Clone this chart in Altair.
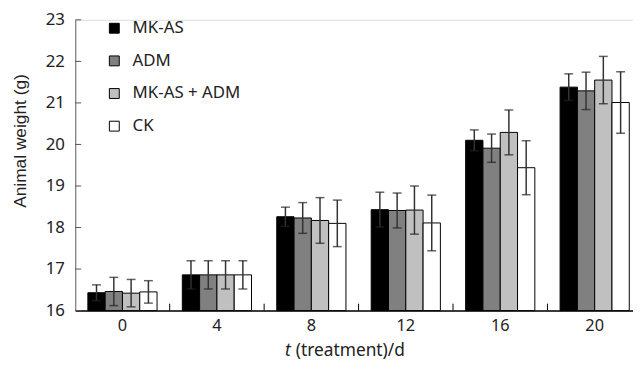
import altair as alt
import pandas as pd

groups = ["0", "4", "8", "12", "16", "20"]
series = ["MK-AS", "ADM", "MK-AS + ADM", "CK"]
colors = ["#000000", "#808080", "#c0c0c0", "#ffffff"]
y_ticks = [16, 17, 18, 19, 20, 21, 22, 23]

mk_as = [16.43, 16.86, 18.26, 18.43, 20.10, 21.38]
mk_as_err = [0.19, 0.34, 0.23, 0.42, 0.25, 0.32]
adm = [16.46, 16.86, 18.23, 18.41, 19.91, 21.29]
adm_err = [0.34, 0.34, 0.37, 0.42, 0.34, 0.45]
combo = [16.42, 16.86, 18.17, 18.42, 20.29, 21.55]
combo_err = [0.33, 0.34, 0.55, 0.58, 0.54, 0.57]
ck = [16.45, 16.86, 18.10, 18.11, 19.44, 21.01]
ck_err = [0.27, 0.34, 0.56, 0.67, 0.65, 0.74]

rows = []
for name, vals, errs in zip(series, [mk_as, adm, combo, ck], [mk_as_err, adm_err, combo_err, ck_err]):
    for g, v, e in zip(groups, vals, errs):
        rows.append({"group": g, "series": name, "value": v, "lo": v - e, "hi": v + e})
df = pd.DataFrame(rows)
tick_df = pd.DataFrame({"group": groups[1:]})
ytick_df = pd.DataFrame({"v": y_ticks})

W, H = 564, 294
LFONT = "Noto Sans"
TFONT = "Liberation Sans"
TXT = "#222222"

xenc = alt.X("group:N", scale=alt.Scale(domain=groups, paddingInner=0, paddingOuter=0, range=[0, 573]),
             axis=alt.Axis(title=None, labelAngle=0, ticks=False, tickSize=0, domainColor="#000000",
                           domainWidth=1.5, labelFontSize=16.5, labelFont=LFONT, labelColor=TXT,
                           labelPadding=7))
xoff = alt.XOffset("series:N", scale=alt.Scale(domain=series, paddingInner=0, paddingOuter=0.73))
yscale = alt.Scale(domain=[16, 23], zero=False, nice=False)

bars = alt.Chart(df).mark_bar(stroke="#000000", strokeWidth=1).encode(
    x=xenc,
    xOffset=xoff,
    y=alt.Y("value:Q", scale=yscale,
            axis=alt.Axis(title="Animal weight (g)", values=y_ticks, grid=False,
                          ticks=False, tickSize=0, domainColor="#666666", domainWidth=1,
                          labelFontSize=17, labelFont=LFONT, labelColor=TXT, labelPadding=11,
                          titleFont=TFONT, titleFontSize=17.5, titleFontWeight="normal", titleColor=TXT,
                          titleAngle=270, titleBaseline="alphabetic", titleAlign="center",
                          titleX=-50, titleY=122)),
    y2=alt.datum(16),
    color=alt.Color("series:N", scale=alt.Scale(domain=series, range=colors),
                    legend=alt.Legend(title=None, orient="none", legendX=31, legendY=0,
                                      symbolType="square", symbolSize=100, symbolStrokeColor="#000000",
                                      symbolStrokeWidth=1, symbolOpacity=1, labelFontSize=17, labelFont=LFONT,
                                      labelColor=TXT, rowPadding=15, padding=0, labelOffset=10)),
)

err_rule = alt.Chart(df).mark_rule(color="#333333", strokeWidth=1.5).encode(
    x=alt.X("group:N"), xOffset=alt.XOffset("series:N"),
    y=alt.Y("lo:Q"), y2=alt.Y2("hi:Q"),
)
cap_hi = alt.Chart(df).mark_tick(color="#222222", thickness=1.5, size=9, orient="horizontal").encode(
    x=alt.X("group:N"), xOffset=alt.XOffset("series:N"), y=alt.Y("hi:Q"),
)
cap_lo = alt.Chart(df).mark_tick(color="#222222", thickness=1.5, size=9, orient="horizontal").encode(
    x=alt.X("group:N"), xOffset=alt.XOffset("series:N"), y=alt.Y("lo:Q"),
)
band_ticks = alt.Chart(tick_df).mark_rule(color="#000000", strokeWidth=1).encode(
    x=alt.X("group:N", bandPosition=0),
    y=alt.value(H), y2=alt.value(H - 7),
)
y_inner_ticks = alt.Chart(ytick_df).mark_rule(color="#555555", strokeWidth=1).encode(
    y=alt.Y("v:Q"), x=alt.value(0), x2=alt.value(6),
)

title_df = pd.DataFrame({"a": [0]})
t_italic = alt.Chart(title_df).mark_text(text="t", font=LFONT, fontSize=17.5, fontStyle="italic",
                                         align="left", baseline="alphabetic", color=TXT).encode(
    x=alt.value(212), y=alt.value(340))
t_rest = alt.Chart(title_df).mark_text(text="(treatment)/d", font=LFONT, fontSize=17.5,
                                       align="left", baseline="alphabetic", color=TXT).encode(
    x=alt.value(223), y=alt.value(340))

chart = alt.layer(bars, err_rule, cap_hi, cap_lo, band_ticks, y_inner_ticks, t_italic, t_rest).properties(
    width=W, height=H,
    autosize=alt.AutoSizeParams(type="none"),
    padding={"left": 68, "top": 10, "right": 0, "bottom": 49},
).configure_view(stroke=None).configure(background="white")

chart.save("out.html", embed_options={"renderer": "svg", "actions": False})
